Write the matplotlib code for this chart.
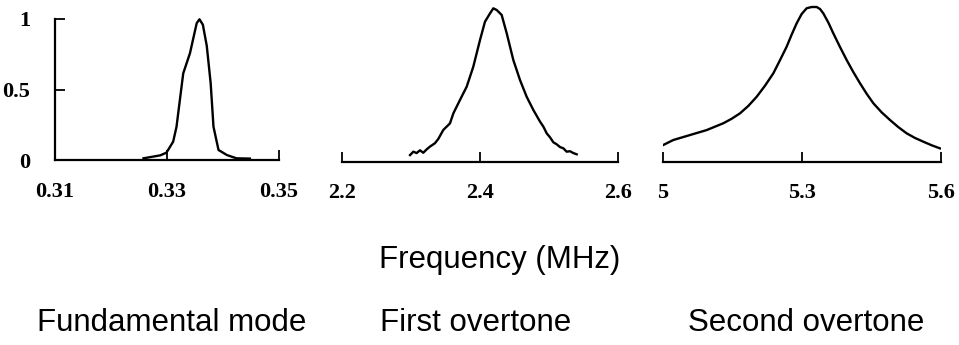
import matplotlib
matplotlib.use("Agg")
import matplotlib.pyplot as plt
import numpy as np

# Fundamental mode (normalised amplitude vs frequency, MHz)
fund_freq = [0.3258, 0.3288, 0.3299, 0.3311, 0.3317, 0.3323, 0.3329, 0.3341,
             0.3353, 0.3358, 0.3364, 0.3371, 0.3378, 0.3383, 0.3392, 0.3407,
             0.3424, 0.3448]
fund_amp = [0.012, 0.033, 0.052, 0.13, 0.236, 0.426, 0.615, 0.757,
            0.97, 0.998, 0.96, 0.81, 0.544, 0.236, 0.071, 0.035,
            0.012, 0.01]

# First overtone
first_freq = [2.2986, 2.3034, 2.3082, 2.3130, 2.3178, 2.3227, 2.3275, 2.3347,
              2.3396, 2.3468, 2.3565, 2.3614, 2.3710, 2.3807, 2.3903, 2.4000,
              2.4072, 2.4145, 2.4193, 2.4242, 2.4314, 2.4387, 2.4483, 2.4580,
              2.4676, 2.4773, 2.4870, 2.4918, 2.4967, 2.5015, 2.5063, 2.5111,
              2.5160, 2.5208, 2.5256, 2.5304, 2.5353, 2.5401]
first_amp = [0.045, 0.067, 0.058, 0.076, 0.06, 0.082, 0.1, 0.122,
             0.15, 0.208, 0.251, 0.316, 0.403, 0.489, 0.619, 0.792,
             0.911, 0.965, 0.998, 0.987, 0.955, 0.836, 0.662, 0.532,
             0.424, 0.338, 0.262, 0.23, 0.186, 0.16, 0.128, 0.115,
             0.097, 0.089, 0.067, 0.07, 0.058, 0.05]

# Second overtone
second_freq = [5.0007, 5.0223, 5.0583, 5.0943, 5.1302, 5.1482, 5.1662, 5.1842,
               5.2022, 5.2201, 5.2381, 5.2525, 5.2669, 5.2777, 5.2885, 5.2993,
               5.3101, 5.3209, 5.3317, 5.3389, 5.3460, 5.3568, 5.3676, 5.3820,
               5.3964, 5.4108, 5.4252, 5.4396, 5.4540, 5.4720, 5.4899, 5.5079,
               5.5259, 5.5439, 5.5619, 5.5798, 5.5978]
second_amp = [0.11, 0.142, 0.174, 0.206, 0.25, 0.279, 0.314, 0.362,
              0.421, 0.492, 0.572, 0.657, 0.744, 0.822, 0.895, 0.955,
              0.992, 1.0, 1.0, 0.987, 0.959, 0.9, 0.83, 0.742,
              0.658, 0.58, 0.508, 0.44, 0.379, 0.32, 0.271, 0.225,
              0.185, 0.155, 0.131, 0.108, 0.088]

x_ticks = [[0.31, 0.33, 0.35], [2.2, 2.4, 2.6], [5, 5.3, 5.6]]
x_labels = [["0.31", "0.33", "0.35"], ["2.2", "2.4", "2.6"], ["5", "5.3", "5.6"]]
y_ticks = [0, 0.5, 1]
y_labels = ["0", "0.5", "1"]
titles = ["Fundamental mode", "First overtone", "Second overtone"]
x_title = "Frequency (MHz)"

W, H = 959, 345
fig = plt.figure(figsize=(W / 100, H / 100), dpi=100)

# pixel layout: (left, right, baseline, y of value 1)
panels = [(55, 279, 160, 19), (342, 618, 162, 8), (663, 941, 162, 7)]
top_px = 4
series = [(fund_freq, fund_amp), (first_freq, first_amp), (second_freq, second_amp)]

tick_font = dict(family="Liberation Serif", weight="bold", size=16)
for i, ((l, r, base, one), (fx, fy)) in enumerate(zip(panels, series)):
    ax = fig.add_axes([l / W, 1 - base / H, (r - l) / W, (base - top_px) / H])
    ax.plot(fx, fy, color="black", lw=1.7)
    ax.set_xlim(x_ticks[i][0], x_ticks[i][-1])
    ax.set_ylim(0, (base - top_px) / (base - one))
    ax.set_facecolor("none")
    for s in ["top", "right"]:
        ax.spines[s].set_visible(False)
    ax.spines["bottom"].set_linewidth(1.6)
    ax.spines["left"].set_linewidth(1.6)
    ax.set_xticks(x_ticks[i])
    ax.set_xticklabels(x_labels[i], fontdict=tick_font)
    ax.tick_params(axis="x", direction="in", length=7, width=1.3,
                   pad=16 if i == 0 else 15)
    if i == 0:
        ax.spines["left"].set_bounds(0, 1)
        ax.set_yticks(y_ticks)
        ax.set_yticklabels(y_labels, fontdict=tick_font)
        ax.tick_params(axis="y", direction="in", length=7, width=1.3, pad=18)
    else:
        ax.spines["left"].set_visible(False)
        ax.set_yticks([])

fig.text(500 / W, 1 - 268 / H, x_title, ha="center", va="baseline",
         family="Liberation Sans", size=22.5)
for x_px, t in zip([172, 476, 806], titles):
    fig.text(x_px / W, 1 - 331 / H, t, ha="center", va="baseline",
             family="Liberation Sans", size=22.5)

fig.savefig("out.png", dpi=100, facecolor="white")
